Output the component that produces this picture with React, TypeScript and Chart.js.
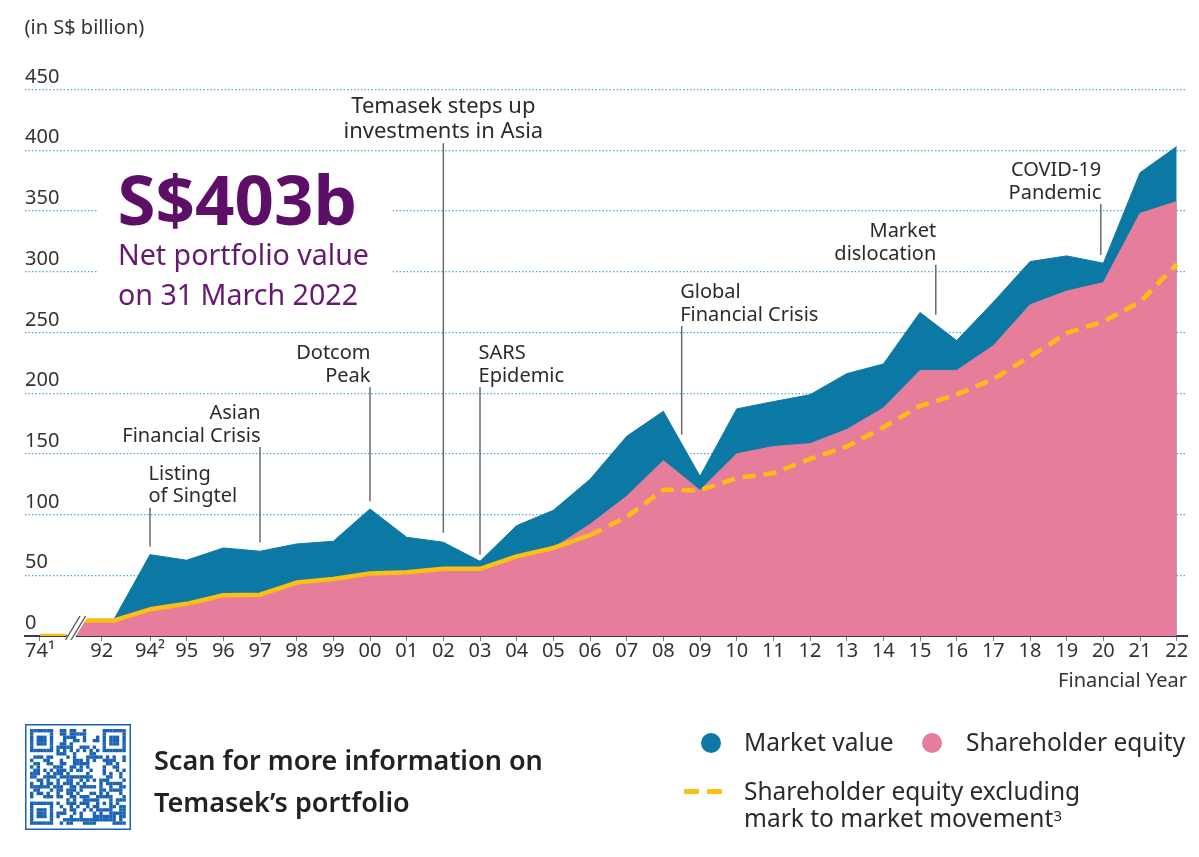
import React, { useEffect, useRef } from 'react';
import { Chart, registerables } from 'chart.js';

Chart.register(...registerables);

// ---------------- data ----------------
const fiscalYears = [
  1992, 1993, 1994, 1995, 1996, 1997, 1998, 1999, 2000, 2001, 2002, 2003, 2004, 2005, 2006,
  2007, 2008, 2009, 2010, 2011, 2012, 2013, 2014, 2015, 2016, 2017, 2018, 2019, 2020, 2021, 2022,
];
const marketValue = [
  12.7, 12.7, 67, 62.4, 72.5, 69.8, 75.8, 78, 104.6, 81.3, 77.2, 61.5, 90.9, 103.5, 129,
  164.4, 185, 131.5, 187, 193, 198.7, 216, 224, 266.4, 243.3, 275, 308.3, 313, 307, 381.5, 403,
];
const shareholderEquity = [
  12.7, 12.7, 22, 26.5, 33.5, 34, 44, 47, 51.4, 52.5, 55.3, 55.3, 65.6, 72.5, 92,
  115, 144.4, 120, 150, 156, 158.4, 170, 187.7, 218.7, 218.7, 239, 272.7, 284, 291, 348, 357.7,
];
const equityExMarkToMarket = [
  12.7, 12.7, 22, 26.5, 33.5, 34, 44, 47, 51.4, 52.5, 55.3, 55.3, 65.6, 72.5, 83,
  98, 120.5, 120, 130, 134, 145.8, 156, 171.8, 189.6, 198.7, 211.6, 230, 249.4, 259, 275, 306,
];
const fy1974Equity = 0.35;

const xTickLabels = [
  '74¹', '92', '94²', '95', '96', '97', '98', '99', '00', '01', '02', '03', '04', '05', '06',
  '07', '08', '09', '10', '11', '12', '13', '14', '15', '16', '17', '18', '19', '20', '21', '22',
];
const yTickValues = [0, 50, 100, 150, 200, 250, 300, 350, 400, 450];

const events = [
  { x: 1994, top: 105.7, bottom: 73.6, lines: ['Listing', 'of Singtel'], align: 'left', size: 20 },
  { x: 1997, top: 155.6, bottom: 77, lines: ['Asian', 'Financial Crisis'], align: 'right', size: 20 },
  { x: 2000, top: 205, bottom: 111, lines: ['Dotcom', 'Peak'], align: 'right', size: 20 },
  { x: 2002, top: 405.7, bottom: 85, lines: ['Temasek steps up', 'investments in Asia'], align: 'center', size: 22 },
  { x: 2003, top: 205, bottom: 67, lines: ['SARS', 'Epidemic'], align: 'left', size: 20 },
  { x: 2008.5, top: 255.3, bottom: 165.8, lines: ['Global', 'Financial Crisis'], align: 'left', size: 20 },
  { x: 2015.43, top: 305.6, bottom: 264.5, lines: ['Market', 'dislocation'], align: 'right', size: 20 },
  { x: 2019.93, top: 355.8, bottom: 313.8, lines: ['COVID-19', 'Pandemic'], align: 'right', size: 20 },
];

// ---------------- layout / style ----------------
const FONT = '"Noto Sans", "Open Sans", sans-serif';
const BLUE = '#0c78a4';
const PINK = '#e57d9b';
const YELLOW = '#fcbf12';
const PURPLE = '#5d0f68';
const TEXT = '#2b2b2b';
const GRID = '#5aa9d4';

const X_MIN = 1990.591;
const X_MAX = 2022.281;
const FY74_AXIS_POS = 1991.0; // where FY1974 sits on the broken axis
const LABEL_92_POS = 1992.683; // label position of "92"
const BREAK_POS = 1991.71; // axis break
const DASH_FROM_INDEX = 14;

const xTickValues = [FY74_AXIS_POS, LABEL_92_POS, ...fiscalYears.slice(2)];

const toPoints = (vals: number[]) => fiscalYears.map((yr, i) => ({ x: yr, y: vals[i] }));

const overlayPlugin = {
  id: 'overlay',
  beforeDatasetsDraw(chart: any) {
    const ctx = chart.ctx;
    ctx.save();
    ctx.fillStyle = '#ffffff';
    ctx.fillRect(97.6, 160, 294.7, 160);
    ctx.restore();
  },
  afterDatasetsDraw(chart: any) {
    const { ctx } = chart;
    const x = chart.scales.x;
    const y = chart.scales.y;
    ctx.save();
    // axis break
    const bx = x.getPixelForValue(BREAK_POS);
    const by = y.getPixelForValue(0);
    const k = 0.604;
    const lb = { x: bx - 0.5, y: by + 4 };
    const lt = { x: bx - 0.5 + 24 * k, y: by - 20 };
    const gap = 5.5;
    ctx.fillStyle = '#ffffff';
    ctx.beginPath();
    ctx.moveTo(lb.x - 1, lb.y);
    ctx.lineTo(lt.x - 1, lt.y);
    ctx.lineTo(lt.x + gap + 2.5, lt.y);
    ctx.lineTo(lb.x + gap + 2.5, lb.y);
    ctx.closePath();
    ctx.fill();
    ctx.strokeStyle = '#5a5a5a';
    ctx.lineWidth = 1.4;
    ctx.beginPath();
    ctx.moveTo(lb.x, lb.y);
    ctx.lineTo(lt.x, lt.y);
    ctx.moveTo(lb.x + gap, lb.y);
    ctx.lineTo(lt.x + gap, lt.y);
    ctx.stroke();

    // event annotations
    ctx.fillStyle = TEXT;
    ctx.textBaseline = 'alphabetic';
    events.forEach((ev) => {
      const px = x.getPixelForValue(ev.x);
      const yt = y.getPixelForValue(ev.top);
      const yb = y.getPixelForValue(ev.bottom);
      ctx.strokeStyle = '#6b6b6b';
      ctx.lineWidth = 1.5;
      ctx.beginPath();
      ctx.moveTo(px, yt);
      ctx.lineTo(px, yb);
      ctx.stroke();
      ctx.font = `${ev.size}px ${FONT}`;
      ctx.textAlign = ev.align;
      const dx = ev.align === 'left' ? -1.5 : ev.align === 'right' ? 0.5 : 0;
      const n = ev.lines.length;
      const lh = ev.size * 1.12;
      ev.lines.forEach((t, i) => {
        ctx.fillText(t, px + dx, yt - 5.3 - (n - 1 - i) * lh);
      });
    });
    ctx.restore();
  },
};

function QrMark() {
  const N = 29;
  const cell = 3.3;
  const off = 5;
  const finder = (r: number, c: number): boolean | null => {
    const corners = [
      [0, 0],
      [0, N - 7],
      [N - 7, 0],
    ];
    for (const [r0, c0] of corners) {
      const dr = r - r0;
      const dc = c - c0;
      if (dr >= -1 && dr <= 7 && dc >= -1 && dc <= 7) {
        if (dr < 0 || dr > 6 || dc < 0 || dc > 6) return false;
        return dr === 0 || dr === 6 || dc === 0 || dc === 6 || (dr >= 2 && dr <= 4 && dc >= 2 && dc <= 4);
      }
    }
    return null;
  };
  const on = (r: number, c: number) => {
    const f = finder(r, c);
    if (f !== null) return f;
    const ar = r - (N - 7);
    const ac = c - (N - 7);
    if (Math.abs(ar) <= 2 && Math.abs(ac) <= 2) {
      return Math.max(Math.abs(ar), Math.abs(ac)) !== 1;
    }
    if (r === 6) return c % 2 === 0;
    if (c === 6) return r % 2 === 0;
    let h = Math.imul(r + 11, 928371) ^ Math.imul(c + 7, 123457) ^ Math.imul(r * c + 3, 7919);
    h = Math.imul(h ^ (h >>> 13), 1274126177);
    return ((h >>> 15) & 3) < 2;
  };
  const rects: any[] = [];
  for (let r = 0; r < N; r++) {
    for (let c = 0; c < N; c++) {
      if (on(r, c)) {
        rects.push(
          <rect key={`${r}-${c}`} x={off + c * cell} y={off + r * cell} width={cell + 0.1} height={cell + 0.1} fill="#1a62b5" />
        );
      }
    }
  }
  return (
    <svg width={106} height={106} style={{ position: 'absolute', left: 25, top: 723.5 }}>
      <rect x={0.75} y={0.75} width={104.5} height={104.5} fill="#fff" stroke="#1a62b5" strokeWidth={1.5} />
      {rects}
    </svg>
  );
}

const textAbs = (left: number, baseline: number, size: number, extra: any = {}) => ({
  position: 'absolute' as const,
  left,
  top: baseline - 0.888 * size,
  fontSize: size,
  lineHeight: 1,
  whiteSpace: 'nowrap' as const,
  fontFamily: FONT,
  color: TEXT,
  ...extra,
});

export default function App() {
  const canvasRef = useRef<HTMLCanvasElement>(null);

  useEffect(() => {
    const canvas = canvasRef.current;
    if (!canvas) return;
    const chart = new Chart(canvas, {
      type: 'line',
      data: {
        datasets: [
          {
            label: 'Shareholder equity excluding mark to market movement',
            data: toPoints(equityExMarkToMarket),
            borderColor: YELLOW,
            borderWidth: 4.5,
            borderJoinStyle: 'round',
            fill: false,
            pointRadius: 0,
            order: 0,
            segment: {
              borderDash: (c: any) => (c.p0DataIndex >= DASH_FROM_INDEX ? [13, 8] : undefined),
            },
          } as any,
          {
            label: 'FY1974',
            data: [
              { x: FY74_AXIS_POS, y: fy1974Equity },
              { x: BREAK_POS, y: fy1974Equity },
            ],
            borderColor: YELLOW,
            borderWidth: 3.5,
            fill: false,
            pointRadius: 0,
            order: 0,
          },
          {
            label: 'Shareholder equity',
            data: toPoints(shareholderEquity),
            backgroundColor: PINK,
            borderColor: PINK,
            borderWidth: 1,
            fill: 'origin',
            pointRadius: 0,
            order: 1,
          },
          {
            label: 'Market value',
            data: toPoints(marketValue),
            backgroundColor: BLUE,
            borderColor: BLUE,
            borderWidth: 1,
            fill: 'origin',
            pointRadius: 0,
            order: 2,
          },
        ],
      },
      options: {
        animation: false,
        responsive: false,
        devicePixelRatio: 1,
        layout: { padding: { left: 25, right: 12, top: 89.5, bottom: 161 } },
        plugins: { legend: { display: false }, tooltip: { enabled: false } },
        elements: { line: { tension: 0 } },
        scales: {
          x: {
            type: 'linear',
            min: X_MIN,
            max: X_MAX,
            afterBuildTicks: (s: any) => {
              s.ticks = xTickValues.map((v) => ({ value: v }));
            },
            afterFit: (s: any) => {
              s.height = 60;
            },
            border: { display: true, color: '#3d3d3d', width: 2 },
            grid: { drawOnChartArea: false, drawTicks: true, tickLength: 5, color: '#808080', lineWidth: 1 },
            ticks: {
              autoSkip: false,
              maxRotation: 0,
              minRotation: 0,
              padding: -2,
              color: '#333',
              font: { family: FONT, size: 20 },
              callback: (_v: any, i: number) => xTickLabels[i],
            },
            title: {
              display: true,
              text: 'Financial Year',
              align: 'end',
              color: '#333',
              font: { family: FONT, size: 20 },
              padding: { top: 0, bottom: 2.5 },
            },
          },
          y: {
            min: 0,
            max: 450,
            afterBuildTicks: (s: any) => {
              s.ticks = yTickValues.map((v) => ({ value: v }));
            },
            afterFit: (s: any) => {
              s.width = 0;
            },
            border: { display: false, dash: [1.5, 2] },
            grid: {
              drawTicks: false,
              lineWidth: 1.2,
              color: (c: any) => (c.tick && c.tick.value === 0 ? 'rgba(0,0,0,0)' : GRID),
            },
            ticks: {
              mirror: true,
              padding: 0,
              labelOffset: -12.5,
              color: '#333',
              font: { family: FONT, size: 20 },
              callback: (v: any) => String(v),
            },
          },
        },
      },
      plugins: [overlayPlugin],
    } as any);
    return () => chart.destroy();
  }, []);

  return (
    <div style={{ position: 'relative', width: 1199, height: 857, background: '#fff', overflow: 'hidden', fontFamily: FONT }}>
      <style>{'body{margin:0;background:#fff}'}</style>
      <canvas ref={canvasRef} width={1199} height={857} style={{ position: 'absolute', left: 0, top: 0, width: 1199, height: 857 }} />

      <div style={textAbs(24.5, 35, 20, { color: '#333' })}>(in S$ billion)</div>

      <div style={textAbs(117.5, 225.5, 69, { color: PURPLE, fontWeight: 700 })}>S$403b</div>
      <div style={textAbs(118, 265, 28.6, { color: '#651a6f' })}>Net portfolio value</div>
      <div style={textAbs(118, 305.5, 28.6, { color: '#651a6f' })}>on 31 March 2022</div>

      <QrMark />
      <div style={textAbs(154, 769.5, 27, { fontWeight: 600, color: '#222' })}>Scan for more information on</div>
      <div style={textAbs(154, 811.5, 27, { fontWeight: 600, color: '#222' })}>Temasek’s portfolio</div>

      <div style={{ position: 'absolute', left: 701, top: 733, width: 20, height: 20, borderRadius: '50%', background: BLUE }} />
      <div style={textAbs(744, 752, 24.5)}>Market value</div>
      <div style={{ position: 'absolute', left: 922, top: 733, width: 20, height: 20, borderRadius: '50%', background: PINK }} />
      <div style={textAbs(966, 752, 24.5)}>Shareholder equity</div>

      <div style={{ position: 'absolute', left: 683.5, top: 788.5, width: 15, height: 5, borderRadius: 1, background: YELLOW }} />
      <div style={{ position: 'absolute', left: 706.5, top: 788.5, width: 15, height: 5, borderRadius: 1, background: YELLOW }} />
      <div style={textAbs(744, 800.5, 24.5)}>Shareholder equity excluding</div>
      <div style={textAbs(744, 828, 24.5)}>
        mark to market movement<span style={{ fontSize: 15, verticalAlign: 'top', position: 'relative', top: 2 }}>3</span>
      </div>
    </div>
  );
}
